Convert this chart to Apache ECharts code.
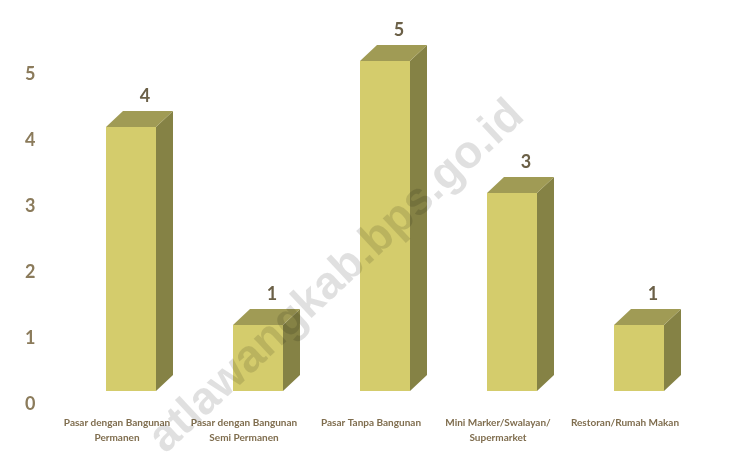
<!DOCTYPE html>
<html><head><meta charset="utf-8">
<script src="https://cdn.jsdelivr.net/npm/echarts@6/dist/echarts.min.js"></script>
<style>html,body{margin:0;padding:0;background:#fff}#c{width:756px;height:458px}</style>
</head><body><div id="c"></div>
<script>
const categories = ['Pasar dengan Bangunan\nPermanen','Pasar dengan Bangunan\nSemi Permanen','Pasar Tanpa Bangunan','Mini Marker/Swalayan/\nSupermarket','Restoran/Rumah Makan'];
const values = [4, 1, 5, 3, 1];
const yTicks = [0, 1, 2, 3, 4, 5];

const DX = 17, DY = 16, BW = 50;
const chart = echarts.init(document.getElementById('c'));
chart.setOption({
  animation: false,
  backgroundColor: '#fff',
  grid: [
    {left: 67.5, width: 635, top: 61, height: 330},
    {left: 53.5, width: 635, top: 74, height: 330}
  ],
  xAxis: [
    {gridIndex: 0, type: 'category', data: categories, show: false},
    {gridIndex: 1, type: 'category', data: categories,
     axisLine: {show: false}, axisTick: {show: false},
     axisLabel: {interval: 0, margin: 11, color: '#7f6d4e', fontFamily: 'Lato', fontWeight: 'bold', fontSize: 10, lineHeight: 15.5}}
  ],
  yAxis: [
    {gridIndex: 0, type: 'value', min: 0, max: 5, interval: 1, show: false},
    {gridIndex: 1, type: 'value', min: yTicks[0], max: yTicks[yTicks.length-1], interval: 1,
     axisLine: {show: false}, axisTick: {show: false}, splitLine: {show: false},
     axisLabel: {margin: 18, color: '#8b7b5b', fontFamily: 'Lato', fontWeight: 'bold', fontSize: 18}}
  ],
  series: [
    {type: 'custom', xAxisIndex: 0, yAxisIndex: 0,
     data: values.map((v, i) => [i, v]),
     renderItem: function (params, api) {
       const b = api.coord([api.value(0), 0]);
       const t = api.coord([api.value(0), api.value(1)]);
       const x0 = b[0] - BW / 2, x1 = x0 + BW;
       return {type: 'group', children: [
         {type: 'polygon', shape: {points: [[x1, t[1]], [x1 + DX, t[1] - DY], [x1 + DX, b[1] - DY], [x1, b[1]]]}, style: {fill: '#858245'}},
         {type: 'polygon', shape: {points: [[x0, t[1]], [x0 + DX, t[1] - DY], [x1 + DX, t[1] - DY], [x1, t[1]]]}, style: {fill: '#a09b55'}},
         {type: 'rect', shape: {x: x0, y: t[1], width: BW, height: b[1] - t[1]}, style: {fill: '#d4cc6c'}},
         {type: 'text', x: b[0] + 14, y: t[1] - 31, style: {text: String(api.value(1)), fill: '#6b6047', font: 'bold 18px Lato', align: 'center', verticalAlign: 'middle'}}
       ]};
     }},
    {type: 'scatter', xAxisIndex: 1, yAxisIndex: 1, data: [], silent: true}
  ],
  graphic: [{
    type: 'text', x: 337, y: 277,
    rotation: 43 * Math.PI / 180,
    z: 100,
    style: {text: 'atlawangkab.bps.go.id', font: 'bold 46px Arial, "Liberation Sans"', fill: 'rgba(0,0,0,0.12)', align: 'center', verticalAlign: 'middle'}
  }]
});
</script></body></html>
